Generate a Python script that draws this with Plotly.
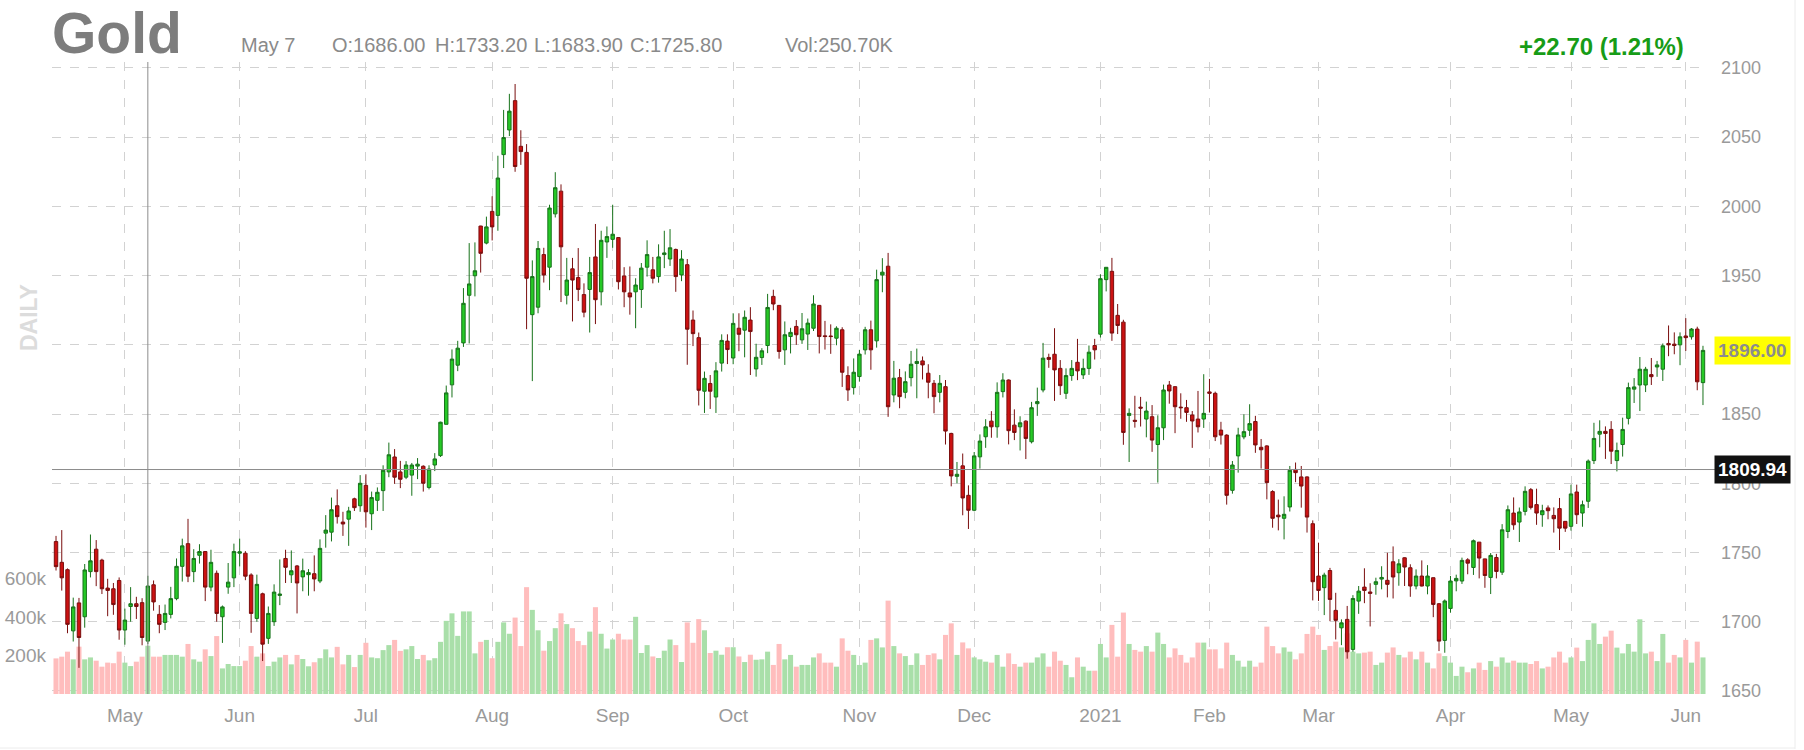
import pandas as pd
import plotly.graph_objects as go

# ---------------- data ----------------
holidays = ["2020-05-25", "2020-07-03", "2020-09-07", "2020-11-26", "2020-12-25",
            "2021-01-01", "2021-01-18", "2021-02-15", "2021-04-02", "2021-05-31"]
dates = [d.strftime("%Y-%m-%d") for d in pd.bdate_range("2020-04-15", "2021-06-04")
         if d.strftime("%Y-%m-%d") not in holidays]

month_labels = ["May", "Jun", "Jul", "Aug", "Sep", "Oct", "Nov", "Dec", "2021",
                "Feb", "Mar", "Apr", "May", "Jun"]

opens = [1757.9, 1742.9, 1737.6, 1693.4, 1713.6, 1703.6, 1736.2, 1752.4, 1744.5, 1724.3,
         1723.8, 1729.8, 1694.0, 1711.0, 1713.0, 1713.8, 1686.0, 1726.7, 1705.3, 1699.5,
         1705.3, 1716.7, 1740.0, 1756.4, 1736.2, 1748.0, 1750.7, 1725.0, 1735.0, 1703.6,
         1725.0, 1731.7, 1749.5, 1749.5, 1733.8, 1702.4, 1720.2, 1688.0, 1700.0, 1719.0,
         1745.7, 1733.9, 1740.3, 1732.4, 1734.0, 1734.7, 1729.4, 1764.0, 1764.7, 1783.8,
         1772.0, 1774.1, 1788.8, 1783.8, 1798.5, 1778.0, 1787.7, 1794.7, 1808.2, 1819.0,
         1808.2, 1804.4, 1805.9, 1812.4, 1812.3, 1797.0, 1813.2, 1820.0, 1842.6, 1871.1,
         1885.3, 1901.4, 1935.8, 1949.9, 1985.8, 1973.5, 1996.4, 1993.5, 2037.4, 2055.2,
         2076.4, 2043.4, 2039.0, 1921.8, 1927.2, 1965.2, 1956.1, 1994.6, 2011.0, 1935.8,
         1954.9, 1948.6, 1936.3, 1940.0, 1963.5, 1938.3, 1974.3, 1976.2, 1977.5, 1949.8,
         1937.5, 1938.3, 1940.0, 1956.1, 1954.2, 1949.3, 1965.2, 1962.0, 1968.9, 1950.5,
         1957.9, 1917.9, 1905.2, 1866.5, 1872.1, 1862.3, 1886.8, 1902.7, 1890.5, 1912.0,
         1910.6, 1917.9, 1882.6, 1890.8, 1899.5, 1935.0, 1928.5, 1896.4, 1906.0, 1913.3,
         1903.6, 1907.8, 1912.0, 1928.5, 1906.5, 1906.4, 1904.8, 1910.9, 1877.8, 1869.1,
         1877.1, 1896.4, 1910.9, 1902.9, 1950.5, 1956.8, 1863.8, 1876.3, 1865.7, 1876.3,
         1886.5, 1888.4, 1879.5, 1872.2, 1865.7, 1869.8, 1836.0, 1805.0, 1812.6, 1791.3,
         1780.5, 1819.1, 1833.6, 1844.9, 1840.8, 1866.2, 1874.6, 1842.0, 1840.8, 1844.9,
         1830.0, 1857.5, 1867.4, 1890.9, 1893.2, 1883.0, 1865.0, 1877.8, 1887.4, 1878.3,
         1883.0, 1899.5, 1907.7, 1947.1, 1953.1, 1921.3, 1916.4, 1849.0, 1845.5, 1855.0,
         1846.4, 1848.1, 1828.0, 1840.1, 1871.0, 1869.8, 1855.0, 1854.6, 1849.3, 1846.4,
         1846.4, 1866.0, 1865.0, 1838.4, 1834.8, 1794.9, 1819.8, 1833.5, 1838.3, 1844.6,
         1826.0, 1827.0, 1794.0, 1777.0, 1774.7, 1782.9, 1810.0, 1804.6, 1804.6, 1770.8,
         1733.0, 1724.6, 1737.0, 1708.2, 1695.6, 1701.7, 1680.0, 1714.9, 1725.0, 1721.5,
         1727.0, 1730.8, 1729.9, 1743.3, 1735.4, 1746.2, 1739.0, 1725.8, 1733.0, 1725.8,
         1731.8, 1713.0, 1686.5, 1709.6, 1729.5, 1729.4, 1744.7, 1739.2, 1757.5, 1745.4,
         1732.0, 1746.4, 1735.8, 1765.2, 1778.5, 1772.0, 1779.7, 1795.4, 1784.6, 1777.3,
         1782.2, 1776.8, 1781.7, 1772.5, 1768.9, 1793.7, 1778.5, 1787.0, 1816.4, 1835.5,
         1837.5, 1838.9, 1816.4, 1828.0, 1846.9, 1868.0, 1871.0, 1871.0, 1878.5, 1884.0,
         1882.4, 1901.0, 1900.5, 1900.0, 1906.4, 1905.8, 1911.4, 1872.7]

highs = [1762.0, 1766.2, 1738.5, 1717.4, 1717.2, 1741.7, 1763.0, 1759.0, 1745.5, 1731.0,
         1728.0, 1732.0, 1709.5, 1725.0, 1718.0, 1717.0, 1733.2, 1729.8, 1712.0, 1712.4,
         1725.2, 1745.7, 1760.0, 1774.3, 1752.4, 1756.0, 1751.0, 1752.0, 1737.0, 1711.7,
         1742.4, 1756.4, 1760.0, 1751.0, 1735.0, 1734.0, 1721.0, 1711.0, 1727.0, 1745.0,
         1752.0, 1751.5, 1741.0, 1745.6, 1738.0, 1747.9, 1759.5, 1777.0, 1789.7, 1795.6,
         1779.4, 1783.0, 1789.6, 1805.9, 1806.5, 1794.0, 1797.0, 1813.0, 1829.4, 1824.7,
         1816.2, 1816.0, 1814.7, 1818.2, 1813.0, 1813.0, 1821.8, 1844.5, 1870.6, 1896.7,
         1902.9, 1941.0, 1973.5, 1974.0, 1986.0, 1992.6, 2007.3, 2036.6, 2069.7, 2081.3,
         2088.4, 2055.0, 2045.0, 1961.0, 1975.0, 1970.1, 2001.2, 2024.7, 2015.9, 1962.8,
         1962.8, 1969.9, 1944.4, 1963.5, 1987.3, 1982.4, 1985.5, 2001.2, 1977.8, 1956.1,
         1956.6, 1948.1, 1959.1, 1975.5, 1963.5, 1972.6, 1982.4, 1983.6, 1969.5, 1968.4,
         1962.0, 1924.8, 1908.9, 1880.7, 1878.2, 1887.5, 1907.6, 1907.6, 1922.8, 1922.8,
         1924.8, 1927.2, 1900.8, 1897.6, 1936.8, 1939.8, 1928.7, 1916.9, 1912.3, 1917.9,
         1923.0, 1919.0, 1935.8, 1928.8, 1917.3, 1914.8, 1913.4, 1912.7, 1884.5, 1890.2,
         1896.4, 1913.0, 1917.5, 1954.3, 1962.6, 1966.4, 1888.4, 1882.6, 1880.8, 1895.6,
         1897.3, 1891.6, 1886.0, 1874.6, 1878.2, 1874.6, 1836.5, 1815.4, 1821.5, 1798.5,
         1822.6, 1835.3, 1846.3, 1852.1, 1872.9, 1879.5, 1875.0, 1853.4, 1848.4, 1845.5,
         1858.8, 1869.1, 1901.4, 1893.6, 1912.0, 1889.0, 1883.0, 1889.0, 1904.3, 1890.0,
         1899.5, 1904.3, 1951.0, 1956.0, 1962.8, 1929.5, 1918.1, 1854.1, 1863.2, 1862.4,
         1859.0, 1856.5, 1849.1, 1871.3, 1873.9, 1869.9, 1865.0, 1860.2, 1852.2, 1866.7,
         1878.8, 1875.4, 1866.2, 1844.4, 1835.4, 1816.1, 1840.1, 1849.8, 1857.1, 1848.7,
         1832.0, 1827.5, 1795.0, 1788.2, 1790.6, 1812.5, 1815.0, 1812.5, 1805.0, 1773.2,
         1757.1, 1735.4, 1738.9, 1720.9, 1701.7, 1711.4, 1719.2, 1725.8, 1738.6, 1727.8,
         1731.8, 1740.1, 1749.8, 1754.4, 1745.2, 1746.5, 1741.5, 1737.8, 1744.3, 1740.9,
         1732.0, 1713.5, 1716.1, 1733.1, 1734.0, 1746.3, 1745.9, 1759.4, 1757.6, 1745.5,
         1749.6, 1749.0, 1770.5, 1784.0, 1789.8, 1782.5, 1797.8, 1796.6, 1796.1, 1784.5,
         1784.0, 1782.6, 1789.4, 1772.6, 1799.0, 1799.0, 1787.5, 1817.2, 1843.7, 1845.5,
         1841.1, 1844.9, 1829.4, 1847.4, 1872.7, 1876.0, 1891.2, 1884.1, 1890.5, 1888.4,
         1901.0, 1914.0, 1909.0, 1909.0, 1919.3, 1912.1, 1913.1, 1899.3]

lows = [1737.0, 1722.5, 1691.7, 1685.7, 1666.7, 1695.7, 1732.0, 1725.7, 1720.0, 1704.0,
        1705.0, 1687.0, 1683.4, 1700.0, 1702.0, 1683.0, 1683.9, 1708.0, 1691.7, 1694.0,
        1702.4, 1715.5, 1729.0, 1728.6, 1728.6, 1742.0, 1714.9, 1722.0, 1700.0, 1684.7,
        1720.2, 1725.0, 1740.0, 1730.0, 1692.0, 1700.0, 1671.6, 1684.0, 1697.0, 1712.0,
        1728.0, 1728.0, 1706.0, 1722.0, 1718.8, 1722.0, 1727.9, 1753.5, 1758.0, 1770.9,
        1762.0, 1754.8, 1780.0, 1779.4, 1768.0, 1766.2, 1780.0, 1780.0, 1804.4, 1799.6,
        1796.5, 1803.0, 1791.0, 1803.0, 1794.0, 1795.6, 1808.8, 1819.0, 1842.6, 1862.0,
        1881.0, 1898.5, 1901.0, 1935.0, 1952.2, 1972.6, 1975.4, 1982.4, 2027.7, 2050.8,
        2025.0, 2030.0, 1911.3, 1873.8, 1922.8, 1945.0, 1939.5, 1992.0, 1930.9, 1929.2,
        1916.9, 1931.6, 1919.9, 1908.9, 1915.0, 1928.5, 1962.8, 1970.1, 1940.0, 1927.2,
        1921.8, 1912.0, 1926.7, 1949.3, 1944.4, 1944.9, 1955.4, 1957.0, 1938.3, 1946.0,
        1885.6, 1899.1, 1856.2, 1850.8, 1853.7, 1850.8, 1880.7, 1886.1, 1886.0, 1895.4,
        1891.0, 1878.2, 1877.0, 1885.5, 1894.0, 1925.0, 1890.0, 1885.5, 1893.8, 1900.0,
        1900.7, 1896.3, 1910.0, 1893.8, 1896.6, 1893.5, 1899.7, 1869.6, 1859.5, 1864.1,
        1873.4, 1893.0, 1882.0, 1898.0, 1938.0, 1848.0, 1858.5, 1854.2, 1861.4, 1870.0,
        1861.4, 1875.0, 1861.4, 1850.6, 1858.5, 1828.0, 1797.8, 1800.0, 1776.9, 1767.0,
        1779.8, 1810.6, 1825.6, 1832.9, 1832.9, 1862.0, 1828.1, 1831.2, 1823.7, 1817.5,
        1828.8, 1848.7, 1865.7, 1883.4, 1859.5, 1863.8, 1860.9, 1874.0, 1874.5, 1875.3,
        1878.3, 1889.4, 1905.3, 1938.6, 1902.9, 1907.8, 1827.8, 1815.4, 1840.2, 1841.0,
        1833.2, 1822.7, 1800.5, 1831.2, 1857.5, 1836.2, 1846.6, 1844.4, 1825.6, 1836.7,
        1840.0, 1851.2, 1830.5, 1828.0, 1784.6, 1792.5, 1807.7, 1831.8, 1834.2, 1822.0,
        1810.6, 1788.4, 1767.9, 1766.0, 1759.5, 1779.6, 1800.8, 1782.4, 1764.4, 1715.4,
        1715.0, 1704.8, 1700.4, 1687.2, 1683.1, 1673.3, 1678.3, 1705.7, 1713.4, 1696.6,
        1719.5, 1723.4, 1717.6, 1716.8, 1726.0, 1725.8, 1718.0, 1723.4, 1725.5, 1719.8,
        1703.3, 1678.8, 1677.6, 1706.5, 1722.0, 1727.3, 1734.3, 1733.8, 1731.3, 1724.5,
        1720.0, 1731.3, 1733.8, 1760.4, 1766.4, 1757.6, 1776.8, 1781.1, 1770.0, 1768.6,
        1774.0, 1764.4, 1751.8, 1764.9, 1765.8, 1770.6, 1768.6, 1782.2, 1813.9, 1826.0,
        1817.6, 1813.9, 1808.6, 1819.3, 1842.5, 1858.0, 1852.2, 1865.9, 1871.0, 1876.9,
        1873.9, 1891.8, 1893.2, 1885.3, 1895.6, 1903.8, 1867.2, 1856.5]

closes = [1739.8, 1731.7, 1698.1, 1710.7, 1688.6, 1737.4, 1744.0, 1736.2, 1723.8, 1722.6,
          1712.4, 1694.0, 1701.2, 1713.0, 1711.0, 1688.6, 1725.8, 1714.3, 1698.1, 1706.0,
          1716.7, 1740.0, 1754.8, 1732.9, 1745.7, 1750.7, 1725.0, 1742.9, 1706.0, 1710.7,
          1728.6, 1750.7, 1750.5, 1732.9, 1706.0, 1727.0, 1683.8, 1706.0, 1721.4, 1720.0,
          1739.3, 1736.8, 1728.0, 1736.8, 1735.5, 1730.9, 1753.0, 1766.2, 1780.9, 1775.9,
          1770.6, 1780.0, 1782.4, 1800.0, 1779.4, 1789.7, 1793.5, 1809.4, 1820.6, 1804.4,
          1802.9, 1813.2, 1813.2, 1813.8, 1800.0, 1810.3, 1817.6, 1844.1, 1865.3, 1889.7,
          1897.6, 1930.0, 1944.0, 1953.5, 1966.1, 1985.2, 1985.2, 2020.5, 2049.7, 2068.8,
          2028.8, 2039.6, 1948.1, 1949.3, 1969.6, 1950.5, 1998.8, 2013.5, 1970.8, 1946.8,
          1946.8, 1940.0, 1923.6, 1952.2, 1932.6, 1975.5, 1978.2, 1979.9, 1945.6, 1938.3,
          1934.6, 1943.2, 1955.4, 1965.2, 1948.1, 1963.5, 1966.4, 1970.1, 1949.3, 1962.0,
          1911.3, 1908.1, 1867.2, 1875.8, 1866.5, 1881.2, 1903.2, 1896.6, 1915.5, 1907.6,
          1919.9, 1909.6, 1891.0, 1895.7, 1927.0, 1929.5, 1895.2, 1907.3, 1909.0, 1907.3,
          1911.6, 1915.7, 1929.5, 1906.0, 1906.0, 1906.0, 1912.0, 1880.2, 1867.4, 1880.2,
          1893.3, 1910.9, 1896.4, 1947.1, 1952.5, 1855.3, 1875.9, 1862.6, 1873.4, 1886.0,
          1888.0, 1885.5, 1873.0, 1862.6, 1872.2, 1837.7, 1805.3, 1806.5, 1789.4, 1780.5,
          1819.8, 1830.5, 1840.8, 1840.8, 1865.7, 1874.6, 1838.0, 1836.7, 1843.7, 1832.4,
          1854.6, 1859.0, 1890.4, 1889.5, 1881.9, 1870.5, 1877.8, 1883.0, 1881.2, 1883.0,
          1894.7, 1896.4, 1947.8, 1956.0, 1908.5, 1914.0, 1836.7, 1850.5, 1844.8, 1854.3,
          1852.2, 1831.2, 1840.1, 1867.4, 1866.7, 1855.3, 1854.6, 1851.2, 1845.0, 1840.8,
          1850.5, 1865.0, 1833.6, 1834.8, 1791.3, 1813.2, 1834.9, 1837.3, 1843.1, 1827.7,
          1824.2, 1800.5, 1774.7, 1775.8, 1777.6, 1809.4, 1807.7, 1798.0, 1775.6, 1728.9,
          1722.6, 1733.7, 1716.1, 1701.0, 1699.2, 1678.3, 1716.8, 1722.1, 1722.6, 1720.5,
          1728.9, 1732.0, 1727.0, 1732.3, 1741.8, 1739.5, 1725.8, 1733.0, 1725.8, 1733.0,
          1712.5, 1686.0, 1715.0, 1729.4, 1731.3, 1744.3, 1742.3, 1758.5, 1746.0, 1733.4,
          1747.9, 1736.3, 1766.4, 1780.9, 1770.0, 1779.3, 1794.2, 1782.6, 1778.5, 1780.2,
          1780.2, 1774.4, 1767.6, 1767.6, 1792.3, 1777.3, 1784.5, 1816.0, 1832.4, 1837.5,
          1836.0, 1823.2, 1823.7, 1838.9, 1869.1, 1869.6, 1882.4, 1882.4, 1877.0, 1885.5,
          1899.3, 1900.0, 1899.5, 1905.8, 1905.2, 1911.4, 1873.3, 1896.0]

volume_k = [185, 194, 220, 180, 246, 180, 190, 173, 142, 163, 160, 220, 163, 145, 168, 194,
            250.7, 194, 194, 203, 203, 203, 194, 260, 180, 168, 232, 197, 301, 133, 156, 145,
            145, 173, 249, 194, 211, 145, 168, 190, 203,
            154, 203, 182, 144, 165, 186, 232, 190, 245, 154, 203, 140, 203, 266, 190, 186,
            228, 254, 281, 224, 232, 249, 182, 203, 175, 186, 271, 380, 419, 302, 429, 429,
            211, 271, 281, 186, 271, 372, 313, 397, 249, 555,
            437, 331, 225, 275, 342, 419, 363, 342, 275, 254, 324, 451, 313, 236, 283, 313,
            283, 283, 401, 213, 254, 195, 187, 225, 283, 254, 166, 372, 266, 389, 331, 213,
            225, 204, 243, 243, 195, 166, 204, 178,
            180, 220, 151, 260, 180, 203, 142, 151, 151, 190, 211, 163, 163, 142, 289, 225,
            203, 151, 163, 281, 289, 242, 485, 249, 211, 197, 151, 211, 151, 203, 211, 180,
            307, 367, 203, 268, 237, 190, 180, 168, 163,
            203, 142, 211, 156, 142, 163, 163, 190, 211, 142, 220, 173, 151, 87, 190, 142,
            121, 121, 260, 190, 359, 194, 423, 260, 229, 220, 249, 220, 319, 260, 190, 237,
            203, 163, 190, 267, 267, 232, 232, 133, 267,
            203, 173, 142, 173, 142, 163, 350, 249, 211, 242, 220, 180, 211, 312, 350, 307,
            229, 249, 272, 242, 315, 220, 211, 215, 220, 151, 163, 215, 242, 203, 190, 220,
            180, 220, 163, 133, 211, 197, 163, 94, 142,
            113, 133, 163, 125, 171, 142, 190, 163, 173, 163, 163, 156, 171, 133, 142, 190,
            220, 163, 190, 241, 171, 281, 367, 260, 298, 329, 241, 211, 260, 220, 388, 211,
            220, 171, 312, 163, 203, 190, 281, 163, 272, 190]

price_ticks = [1650, 1700, 1750, 1800, 1850, 1900, 1950, 2000, 2050, 2100]
volume_ticks = [200, 400, 600]
volume_tick_labels = ["200k", "400k", "600k"]

crosshair_index = 16
crosshair_price = 1809.94
last_price = 1896.00

# ---------------- layout helpers ----------------
W, H = 1804, 750
PL, PR, PT, PB = 52, 1707, 62, 694
FONT = "Liberation Sans, Arial, Helvetica, sans-serif"


def px(x):
    return (x - PL) / (PR - PL)


def py(y):
    return (PB - y) / (PB - PT)


month_vals = []
seen = set()
for d in dates:
    key = d[:7]
    if key == "2020-04":
        continue
    if key not in seen:
        seen.add(key)
        month_vals.append(d)

vol_colors = ["#a9dfa9" if c >= o else "#ffbdbd" for o, c in zip(opens, closes)]

fig = go.Figure()
fig.add_trace(go.Bar(
    x=dates, y=volume_k, marker=dict(color=vol_colors, line=dict(width=0)),
    yaxis="y", hoverinfo="skip", showlegend=False))
fig.add_trace(go.Candlestick(
    x=dates, open=opens, high=highs, low=lows, close=closes, yaxis="y2",
    increasing=dict(line=dict(color="#17721a", width=1), fillcolor="#26c926"),
    decreasing=dict(line=dict(color="#7a0e0e", width=1), fillcolor="#cc1212"),
    whiskerwidth=0, showlegend=False))

grid = "#d2d2d2"
tick_font = dict(family=FONT, size=18, color="#9a9a9a")

fig.update_layout(
    width=W, height=H,
    margin=dict(l=PL, r=W - PR, t=PT, b=H - PB, autoexpand=False),
    paper_bgcolor="white", plot_bgcolor="white",
    showlegend=False, bargap=0.12, boxgap=0.15,
    font=dict(family=FONT),
    xaxis=dict(type="category", range=[-0.7, len(dates) - 0.3], automargin=False,
               tickvals=month_vals, ticktext=month_labels,
               showgrid=True, gridcolor=grid, griddash="dash", gridwidth=1,
               zeroline=False, showline=False, ticks="",
               tickfont=dict(family=FONT, size=19, color="#9a9a9a"),
               ticklabelstandoff=8,
               rangeslider=dict(visible=False)),
    yaxis=dict(range=[0, 632 / 38.5 * 200], tickvals=volume_ticks, ticktext=volume_tick_labels,
               showgrid=False, zeroline=False, showline=False, side="left", ticks="",
               automargin=False,
               tickfont=dict(family=FONT, size=19, color="#9a9a9a"), ticklabelstandoff=5),
    yaxis2=dict(overlaying="y", side="right", range=[1647.8, 2104.3], tickvals=price_ticks,
                showgrid=True, gridcolor=grid, griddash="dash", gridwidth=1,
                zeroline=False, showline=False, ticks="", automargin=False,
                tickfont=tick_font, ticklabelstandoff=13),
)

shapes = [
    dict(type="line", xref="x", yref="paper", x0=dates[crosshair_index], x1=dates[crosshair_index],
         y0=0, y1=1, line=dict(color="#8c8c8c", width=1)),
    dict(type="line", xref="paper", yref="y2", x0=0, x1=px(1715), y0=crosshair_price,
         y1=crosshair_price, line=dict(color="#8c8c8c", width=1)),
    dict(type="line", xref="paper", yref="paper", x0=px(1795), x1=px(1795), y0=py(0), y1=py(749),
         line=dict(color="#ececec", width=1)),
    dict(type="line", xref="paper", yref="paper", x0=px(0), x1=px(1795), y0=py(748), y1=py(748),
         line=dict(color="#ececec", width=1)),
]
fig.update_layout(shapes=shapes)

ann = []
ann.append(dict(text="<b>Gold</b>", xref="paper", yref="paper", x=px(50), y=py(33),
                xanchor="left", yanchor="middle", showarrow=False,
                font=dict(family=FONT, size=57, color="#7d7d7d")))
info = [("May 7", 239), ("O:1686.00", 330), ("H:1733.20", 433), ("L:1683.90", 532),
        ("C:1725.80", 628), ("Vol:250.70K", 783)]
for t, xx in info:
    ann.append(dict(text=t, xref="paper", yref="paper", x=px(xx), y=py(45),
                    xanchor="left", yanchor="middle", showarrow=False,
                    font=dict(family=FONT, size=20, color="#8a8a8a")))
ann.append(dict(text="<b>+22.70 (1.21%)</b>", xref="paper", yref="paper", x=px(1686), y=py(46),
                xanchor="right", yanchor="middle", showarrow=False,
                font=dict(family=FONT, size=24, color="#179c17")))
ann.append(dict(text="<b>DAILY</b>", xref="paper", yref="paper", x=px(29), y=py(318),
                xanchor="center", yanchor="middle", showarrow=False, textangle=-90,
                font=dict(family=FONT, size=23, color="#dcdcdc")))
ann.append(dict(text="<b>%.2f</b>" % last_price, xref="paper", yref="y2", x=px(1714), y=last_price,
                xanchor="left", yanchor="middle", showarrow=False, bgcolor="#ffff00",
                borderpad=3, font=dict(family=FONT, size=19, color="#8c8c8c")))
ann.append(dict(text="<b>%.2f</b>" % crosshair_price, xref="paper", yref="y2", x=px(1714),
                y=crosshair_price, xanchor="left", yanchor="middle", showarrow=False,
                bgcolor="#111111", borderpad=3, font=dict(family=FONT, size=19, color="#ffffff")))
fig.update_layout(annotations=ann)

fig.write_html("out.html", config={"displayModeBar": False},
               post_script="document.body.style.margin='0px';document.body.style.padding='0px';")
